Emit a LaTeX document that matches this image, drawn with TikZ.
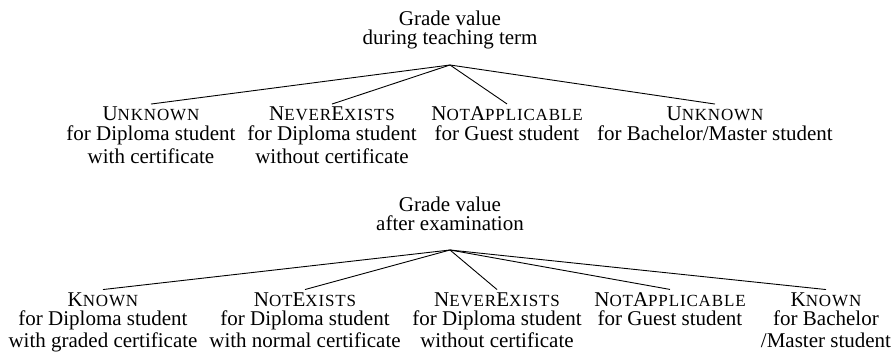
\documentclass[tikz,border=0pt]{standalone}
\usepackage{fontspec}
\setmainfont{Liberation Serif}
\newfontfamily\scfont[LetterSpace=5]{Liberation Serif}
\newcommand\smc[1]{{\scfont\fontsize{17}{17}\selectfont #1}}
\begin{document}
\begin{tikzpicture}[x=1pt,y=-1pt,
  txt/.style={anchor=base,inner sep=3pt,font=\fontsize{21}{21}\selectfont},
  edge/.style={line width=0.9pt}]
\useasboundingbox (0,0) rectangle (894,352);
% top tree
\node[txt] (p1) at (450,26) {Grade value};
\node[txt] (p1b) at (450,45) {during teaching term};
\coordinate (ap1) at (450,65);
\node[txt] (c1) at (151,121) {U\smc{NKNOWN}};
\node[txt] (c1b) at (151,140.7) {for Diploma student};
\node[txt] (c1c) at (151,163.5) {with certificate};
\node[txt] (c2) at (332,121) {N\smc{EVER}E\smc{XISTS}};
\node[txt] (c2b) at (332,140.7) {for Diploma student};
\node[txt] (c2c) at (332,163.5) {without certificate};
\node[txt] (c3) at (507,121) {N\smc{OT}A\smc{PPLICABLE}};
\node[txt] (c3b) at (507,140.7) {for Guest student};
\node[txt] (c4) at (715,121) {U\smc{NKNOWN}};
\node[txt] (c4b) at (715,140.7) {for Bachelor/Master student};
\foreach \c in {c1,c2,c3,c4} \draw[edge] (ap1) -- (\c.north);
% bottom tree
\node[txt] (p2) at (450,211.7) {Grade value};
\node[txt] (p2b) at (450,230.7) {after examination};
\coordinate (ap2) at (450,250);
\node[txt] (d1) at (103,306.5) {K\smc{NOWN}};
\node[txt] (d1b) at (103,326) {for Diploma student};
\node[txt] (d1c) at (103,348) {with graded certificate};
\node[txt] (d2) at (305,306.5) {N\smc{OT}E\smc{XISTS}};
\node[txt] (d2b) at (305,326) {for Diploma student};
\node[txt] (d2c) at (305,348) {with normal certificate};
\node[txt] (d3) at (497,306.5) {N\smc{EVER}E\smc{XISTS}};
\node[txt] (d3b) at (497,326) {for Diploma student};
\node[txt] (d3c) at (497,348) {without certificate};
\node[txt] (d4) at (670,306.5) {N\smc{OT}A\smc{PPLICABLE}};
\node[txt] (d4b) at (670,326) {for Guest student};
\node[txt] (d5) at (826,306.5) {K\smc{NOWN}};
\node[txt] (d5b) at (826,326) {for Bachelor};
\node[txt] (d5c) at (826,348) {/Master student};
\foreach \d in {d1,d2,d3,d4,d5} \draw[edge] (ap2) -- (\d.north);
\end{tikzpicture}
\end{document}
